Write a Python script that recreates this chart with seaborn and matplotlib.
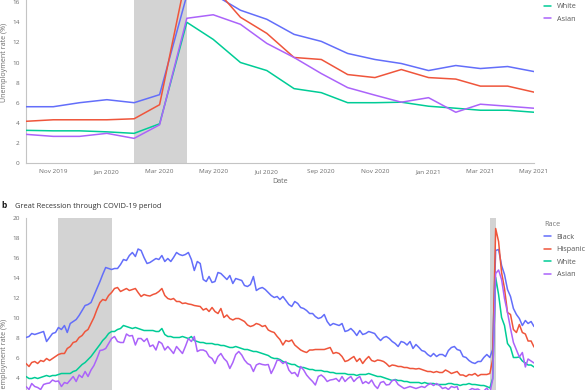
import numpy as np
import pandas as pd
import matplotlib
matplotlib.use("Agg")
import matplotlib.pyplot as plt
import matplotlib.dates as mdates
import seaborn as sns

races = ["Black", "Hispanic", "White", "Asian"]
colors = ["#636EFA", "#EF553B", "#00CC96", "#AB63FA"]
start_month = "2007-01-01"
end_month = "2021-05-01"
panel_a_start = "2019-10-01"
recessions = [("2007-12-01", "2009-06-01"), ("2020-02-01", "2020-04-01")]
y_ticks = list(range(0, 22, 2))
a_ticks = ["2019-11-01", "2020-01-01", "2020-03-01", "2020-05-01", "2020-07-01",
           "2020-09-01", "2020-11-01", "2021-01-01", "2021-03-01", "2021-05-01"]

black = [
    8.0, 8.1, 8.4, 8.3, 8.4, 8.5, 8.6, 7.6, 8.0, 8.4, 8.5, 9.0,
    8.8, 9.2, 8.5, 9.4, 9.6, 9.8, 10.2, 10.7, 11.2, 11.3, 11.5, 12.2,
    12.9, 13.6, 14.3, 15.0, 14.9, 14.8, 14.9, 14.9, 15.3, 15.8, 15.7, 16.2,
    16.5, 16.1, 16.85, 16.7, 16.0, 15.4, 15.5, 15.7, 15.9, 15.8, 16.2, 15.6,
    15.9, 15.6, 16.0, 16.5, 16.3, 16.2, 16.3, 16.5, 15.8, 14.7, 15.6, 15.4,
    13.8, 13.6, 14.1, 13.5, 13.6, 14.5, 14.4, 14.1, 13.8, 14.2, 13.4, 13.9,
    13.8, 13.7, 13.2, 13.1, 13.3, 14.1, 12.7, 12.9, 13.0, 12.8, 12.5, 12.2,
    12.0, 12.1, 11.8, 12.1, 11.7, 11.3, 11.1, 11.6, 11.4, 11.0, 10.9, 10.7,
    10.4, 10.4, 10.1, 9.9, 10.0, 10.3, 9.6, 9.2, 9.4, 9.3, 9.2, 9.4,
    8.6, 8.7, 8.9, 8.6, 8.2, 8.7, 8.3, 8.4, 8.6, 8.5, 8.4, 8.0,
    7.7, 8.0, 8.1, 7.9, 7.6, 7.4, 7.1, 7.6, 7.5, 7.25, 7.6, 6.9,
    7.3, 7.0, 6.7, 6.6, 6.3, 6.1, 6.4, 6.1, 6.3, 6.3, 6.1, 6.7,
    7.0, 7.1, 6.8, 6.7, 6.1, 6.0, 5.7, 5.5, 5.4, 5.6, 5.6, 6.0,
    6.3, 6.0, 6.8, 16.7, 16.8, 15.2, 14.3, 12.8, 12.1, 10.9, 10.3, 9.9,
    9.2, 9.7, 9.4, 9.6, 9.1]

hispanic = [
    5.4, 5.1, 5.5, 5.6, 5.4, 5.7, 5.6, 5.9, 5.7, 5.9, 6.1, 6.3,
    6.4, 6.4, 6.9, 7.1, 7.5, 7.6, 8.0, 8.2, 8.6, 8.8, 9.4, 10.0,
    10.8, 11.5, 11.8, 11.7, 12.2, 12.5, 12.9, 13.0, 12.6, 12.75, 12.9, 12.7,
    12.8, 12.9, 12.5, 12.1, 12.3, 12.2, 12.15, 12.3, 12.4, 12.6, 12.9, 12.2,
    11.9, 11.8, 11.9, 11.6, 11.6, 11.4, 11.45, 11.35, 11.3, 11.2, 11.15, 11.1,
    10.75, 10.9, 10.6, 11.0, 10.6, 10.4, 10.9, 10.0, 10.25, 9.9, 9.75, 9.9,
    9.9, 9.75, 9.6, 9.25, 9.1, 9.2, 9.4, 9.3, 9.1, 9.2, 8.75, 8.6,
    8.5, 8.1, 7.8, 7.25, 7.7, 7.6, 7.75, 7.25, 7.0, 6.75, 6.6, 6.5,
    6.75, 6.75, 6.8, 6.8, 6.8, 6.8, 6.9, 7.0, 6.4, 6.5, 6.4, 6.1,
    5.6, 5.7, 5.9, 6.1, 5.6, 5.9, 5.4, 5.8, 6.1, 5.7, 5.6, 5.75,
    5.7, 5.6, 5.4, 5.1, 5.25, 5.2, 5.1, 5.1, 5.0, 5.0, 4.9, 4.9,
    4.85, 4.9, 4.8, 4.7, 4.6, 4.6, 4.5, 4.6, 4.5, 4.5, 4.75, 4.6,
    4.4, 4.5, 4.6, 4.25, 4.25, 4.1, 4.3, 4.25, 4.4, 4.15, 4.3, 4.3,
    4.3, 4.4, 5.8, 18.9, 17.6, 14.5, 12.9, 10.5, 10.3, 8.8, 8.5, 9.3,
    8.5, 8.35, 7.65, 7.65, 7.05]

white = [
    4.1, 3.9, 3.9, 4.0, 3.9, 4.0, 4.1, 4.2, 4.1, 4.2, 4.2, 4.3,
    4.4, 4.4, 4.4, 4.4, 4.6, 4.7, 5.0, 5.3, 5.5, 5.8, 6.1, 6.5,
    6.9, 7.3, 7.7, 8.0, 8.4, 8.6, 8.6, 8.8, 8.9, 9.2, 9.1, 9.0,
    8.9, 9.0, 8.9, 8.8, 8.7, 8.7, 8.7, 8.7, 8.6, 8.6, 8.9, 8.3,
    8.1, 8.1, 8.0, 8.0, 8.0, 8.1, 8.0, 7.9, 8.1, 7.7, 7.6, 7.5,
    7.5, 7.4, 7.4, 7.4, 7.3, 7.3, 7.2, 7.2, 7.1, 7.0, 7.0, 7.1,
    7.0, 6.9, 6.8, 6.8, 6.7, 6.6, 6.6, 6.5, 6.4, 6.3, 6.2, 6.0,
    5.9, 5.9, 5.8, 5.6, 5.5, 5.4, 5.3, 5.3, 5.1, 5.0, 5.0, 4.9,
    4.8, 4.8, 4.7, 4.7, 4.7, 4.6, 4.6, 4.5, 4.5, 4.4, 4.4, 4.4,
    4.4, 4.3, 4.3, 4.3, 4.2, 4.3, 4.3, 4.3, 4.4, 4.3, 4.2, 4.1,
    4.1, 4.0, 3.9, 3.8, 3.7, 3.8, 3.7, 3.7, 3.6, 3.6, 3.5, 3.5,
    3.5, 3.5, 3.4, 3.5, 3.4, 3.4, 3.4, 3.3, 3.3, 3.3, 3.3, 3.4,
    3.4, 3.3, 3.3, 3.2, 3.3, 3.3, 3.4, 3.3, 3.3, 3.25, 3.2, 3.2,
    3.1, 2.95, 3.9, 14.0, 12.3, 10.0, 9.2, 7.4, 7.0, 6.0, 6.0, 6.05,
    5.65, 5.45, 5.25, 5.25, 5.05]

asian = [
    3.1, 2.8, 3.4, 3.1, 3.0, 2.8, 3.3, 3.4, 3.45, 3.75, 3.6, 3.65,
    3.1, 3.5, 3.4, 3.75, 4.1, 3.6, 4.25, 4.0, 4.6, 4.1, 4.75, 5.2,
    5.9, 6.7, 6.75, 6.9, 7.4, 7.9, 8.1, 7.6, 7.5, 7.5, 8.35, 8.15,
    8.2, 7.25, 7.9, 7.9, 7.6, 7.9, 7.1, 7.25, 6.75, 7.6, 7.4, 6.75,
    7.1, 6.75, 6.4, 7.1, 6.75, 6.4, 7.1, 7.9, 7.6, 8.1, 6.6, 6.75,
    6.75, 6.6, 6.1, 5.9, 5.4, 6.1, 6.4, 5.9, 5.6, 4.9, 5.5, 6.3,
    6.6, 6.25, 5.75, 5.4, 5.25, 4.6, 5.25, 5.4, 5.3, 5.25, 5.3, 4.4,
    5.0, 5.75, 5.7, 5.4, 5.6, 4.75, 4.4, 4.5, 4.1, 5.1, 4.75, 4.25,
    3.9, 3.6, 3.25, 4.1, 4.25, 4.0, 3.6, 3.75, 3.8, 3.9, 3.6, 4.1,
    3.6, 3.9, 4.1, 3.6, 3.9, 4.1, 3.4, 3.6, 3.4, 3.75, 3.2, 2.9,
    3.5, 3.6, 3.25, 3.3, 3.7, 3.75, 3.3, 3.1, 2.9, 3.0, 3.1, 3.0,
    2.9, 3.0, 3.1, 3.0, 3.25, 3.4, 3.2, 3.4, 3.2, 2.9, 3.0, 2.8,
    3.1, 3.0, 3.1, 2.2, 2.5, 2.6, 2.7, 2.9, 2.8, 2.85, 2.65, 2.65,
    2.95, 2.45, 3.8, 14.4, 14.75, 13.8, 11.9, 10.5, 8.9, 7.5, 6.75, 6.05,
    6.5, 5.05, 5.85, 5.65, 5.45]

# ---------------------------------------------------------------- data frame
months = pd.date_range(start_month, end_month, freq="MS")
series = {"Black": black, "Hispanic": hispanic, "White": white, "Asian": asian}
frames = []
for r in races:
    frames.append(pd.DataFrame({"date": months, "rate": series[r], "race": r}))
df = pd.concat(frames, ignore_index=True)
df_a = df[df["date"] >= pd.Timestamp(panel_a_start)]

# ---------------------------------------------------------------- style
sns.set_style("white")
plt.rcParams["font.family"] = ["Open Sans", "DejaVu Sans"]
AXC = "#c4c4c4"
TXT = "#6b6b6b"

W, H = 585, 390
fig = plt.figure(figsize=(W / 100, H / 100), dpi=100)

def px_axes(left, top, right, bottom):
    return fig.add_axes([left / W, 1 - bottom / H, (right - left) / W, (bottom - top) / H])

ax_a = px_axes(26, -38, 534, 163)
ax_b = px_axes(26, 217.5, 534, 417.5)

def style_axes(ax):
    for s in ["top", "right"]:
        ax.spines[s].set_visible(False)
    for s in ["left", "bottom"]:
        ax.spines[s].set_color(AXC)
        ax.spines[s].set_linewidth(0.8)
    ax.tick_params(axis="both", direction="out", length=3, width=0.7, color=AXC,
                   labelsize=4.6, labelcolor=TXT, pad=1.5)
    ax.set_ylim(0, 20)
    ax.set_yticks(y_ticks)
    ax.grid(False)

for ax, data in [(ax_a, df_a), (ax_b, df)]:
    for s, e in recessions:
        ax.axvspan(pd.Timestamp(s), pd.Timestamp(e), color="#d3d3d3", lw=0, zorder=0)
    sns.lineplot(data=data, x="date", y="rate", hue="race", hue_order=races,
                 palette=colors, linewidth=1.1, errorbar=None, ax=ax, zorder=3)
    style_axes(ax)

ax_a.set_xlim(pd.Timestamp(panel_a_start), pd.Timestamp(end_month))
ax_b.set_xlim(pd.Timestamp(start_month), pd.Timestamp(end_month))
ax_a.set_xticks([pd.Timestamp(t) for t in a_ticks])
ax_a.xaxis.set_major_formatter(mdates.DateFormatter("%b %Y"))
ax_b.xaxis.set_major_locator(mdates.YearLocator(2))
ax_b.xaxis.set_major_formatter(mdates.DateFormatter("%Y"))

# axis labels
for ax, yc in [(ax_a, 0.5), (ax_b, 0.2975)]:
    ax.set_ylabel("Unemployment rate (%)", fontsize=5.1, color=TXT)
    ax.yaxis.set_label_coords(-0.036, yc)
ax_a.set_xlabel("Date", fontsize=5.1, color=TXT)
ax_a.xaxis.set_label_coords(0.5, -0.077)
ax_b.set_xlabel("Date", fontsize=5.1, color=TXT)

# legends
for ax in [ax_a, ax_b]:
    h, l = ax.get_legend_handles_labels()
    leg = ax.legend(h, l, title="Race", loc="upper left", bbox_to_anchor=(1.0197, 0.98),
                    frameon=False, fontsize=5.2, title_fontsize=5.2, borderpad=0,
                    borderaxespad=0, handlelength=0.95, handletextpad=0.8,
                    labelspacing=0.75, alignment="left")
    for t in leg.get_texts():
        t.set_color("#555555")
    leg.get_title().set_color("#777777")
    for ln in leg.get_lines():
        ln.set_linewidth(1.1)

# panel b title
fig.text(1.5 / W, 1 - 206 / H, "b", fontsize=6, fontweight="bold", color="#111111",
         va="center", ha="left")
fig.text(15 / W, 1 - 206 / H, "Great Recession through COVID-19 period", fontsize=5.4,
         color="#333333", va="center", ha="left")

fig.savefig("out.png", dpi=100)
